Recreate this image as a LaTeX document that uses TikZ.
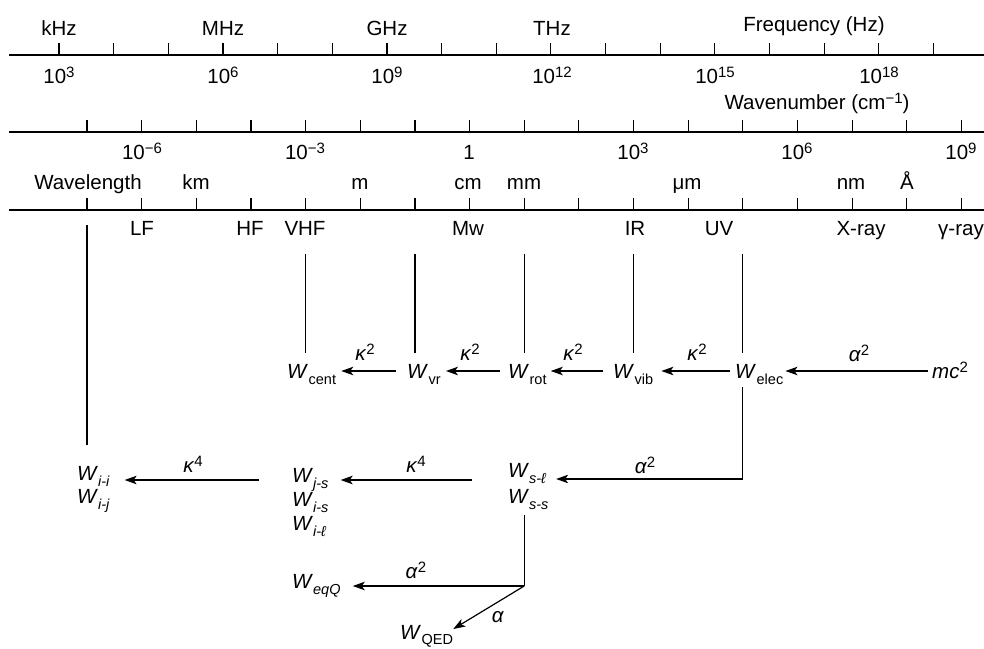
\documentclass[tikz,border=0pt]{standalone}
\usepackage{fontspec}
\setmainfont{Liberation Sans}
\usetikzlibrary{arrows.meta,calc}
\newcommand{\sups}[1]{\raisebox{6pt}{\fontsize{15}{15}\selectfont #1}}
\newcommand{\subs}[1]{\raisebox{-6pt}{\fontsize{14.5}{15}\selectfont #1}}
\newcommand{\Wx}[1]{\textit{W}\kern0.5pt\subs{#1}}
\newcommand{\Wi}[1]{\textit{W}\subs{\itshape #1}}
\begin{document}
\begin{tikzpicture}[x=1pt,y=-1pt,
  lbl/.style={font=\fontsize{20.5}{24}\selectfont, inner sep=0pt, anchor=base},
  ax/.style={line width=1.2pt},
  ln/.style={line width=1.2pt},
  arr/.style={line width=1.2pt,-{Stealth[length=12pt,width=8.5pt,inset=3pt]}},
  wn/.style={font=\fontsize{20.5}{24}\selectfont, inner sep=0pt, anchor=base west},
  cf/.style={font=\fontsize{20.5}{24}\selectfont, inner sep=0pt, anchor=base},
]
\useasboundingbox (0,0) rectangle (984,648);
% axes
\draw[ax] (9,55) -- (984,55);
\foreach \k in {0,...,16} \draw[ax] ({59+54.65*\k},43) -- ({59+54.65*\k},55);
\draw[ax] (9,132) -- (984,132);
\foreach \k in {0,...,16} \draw[ax] ({87+54.65*\k},120) -- ({87+54.65*\k},132);
\draw[ax] (9,210) -- (984,210);
\foreach \k in {0,...,16} {
  \coordinate (t\k) at ({87+54.65*\k},210);
  \draw[ax] ({87+54.65*\k},198) -- (t\k);
}
% frequency labels
\node[lbl] (khz) at (59,35) {kHz};
\node[lbl] (mhz) at (223,35) {MHz};
\node[lbl] (ghz) at (387,35) {GHz};
\node[lbl] (thz) at (552,35) {THz};
\node[lbl] (freq) at (814,31) {Frequency (Hz)};
\node[lbl] (p3) at (59,83) {10\sups{3}};
\node[lbl] (p6) at (223,83) {10\sups{6}};
\node[lbl] (p9) at (387,83) {10\sups{9}};
\node[lbl] (p12) at (552,83) {10\sups{12}};
\node[lbl] (p15) at (715,83) {10\sups{15}};
\node[lbl] (p18) at (879,83) {10\sups{18}};
% wavenumber labels
\node[lbl] (wnum) at (817,109) {Wavenumber (cm\sups{−1})};
\node[lbl] (q1) at (142,159) {10\sups{−6}};
\node[lbl] (q2) at (305,159) {10\sups{−3}};
\node[lbl] (q3) at (469,159) {1};
\node[lbl] (q4) at (633,159) {10\sups{3}};
\node[lbl] (q5) at (797,159) {10\sups{6}};
\node[lbl] (q6) at (961,159) {10\sups{9}};
% wavelength labels
\node[lbl] (wl) at (88,189) {Wavelength};
\node[lbl] (km) at (196,189) {km};
\node[lbl] (m) at (360,189) {m};
\node[lbl] (cm) at (468,189) {cm};
\node[lbl] (mm) at (524,189) {mm};
\node[lbl] (um) at (687,189) {μm};
\node[lbl] (nm) at (851,189) {nm};
\node[lbl] (ang) at (907,189) {Å};
% band labels
\node[lbl] (lf) at (142,235) {LF};
\node[lbl] (hf) at (250,235) {HF};
\node[lbl] (vhf) at (305,235) {VHF};
\node[lbl] (mw) at (468,235) {Mw};
\node[lbl] (ir) at (635,235) {IR};
\node[lbl] (uv) at (719,235) {UV};
\node[lbl] (xr) at (861,235) {X-ray};
\node[lbl,anchor=base west] (gr) at (938,235) {γ-ray};
% W row
\node[wn] (Wcent) at (287,378) {\Wx{cent}};
\node[wn] (Wvr) at (407,378) {\Wx{vr}};
\node[wn] (Wrot) at (508,378) {\Wx{rot}};
\node[wn] (Wvib) at (613,378) {\Wx{vib}};
\node[wn] (Welec) at (735,378) {\Wx{elec}};
\node[wn] (mc2) at (932,378) {\textit{mc}\sups{2}};
% verticals
\foreach \k/\n in {4/Wcent,6/Wvr,8/Wrot,10/Wvib,12/Welec}
  \draw[ln] ($(t\k)+(0,44)$) -- ($(t\k |- \n.north)+(0,-11)$);
% W row arrows
\draw[arr] ($(mc2.base west)+(-4,-7)$) -- ($(Welec.base east)+(2,-7)$);
\draw[arr] ($(Welec.base west)+(-5,-7)$) -- ($(Wvib.base east)+(8,-7)$);
\draw[arr] ($(Wvib.base west)+(-10,-7)$) -- ($(Wrot.base east)+(4,-7)$);
\draw[arr] ($(Wrot.base west)+(-8,-7)$) -- ($(Wvr.base east)+(5,-7)$);
\draw[arr] ($(Wvr.base west)+(-11,-7)$) -- ($(Wcent.base east)+(5,-7)$);
\node[cf] (k1) at (365,360) {\textit{κ}\sups{2}};
\node[cf] (k2) at (470,360) {\textit{κ}\sups{2}};
\node[cf] (k3) at (573,360) {\textit{κ}\sups{2}};
\node[cf] (k4) at (697,360) {\textit{κ}\sups{2}};
\node[cf] (a1) at (859,361) {\textit{α}\sups{2}};
% lower nodes
\node[wn] (Wsl) at (508,477) {\Wi{s-ℓ}};
\node[wn] (Wss) at (508,503) {\Wi{s-s}};
\node[wn] (Wjs) at (292,482) {\Wi{j-s}};
\node[wn] (Wis) at (292,506) {\Wi{i-s}};
\node[wn] (Wil) at (292,530) {\Wi{i-ℓ}};
\node[wn] (Wii) at (77,480) {\Wi{i-i}};
\node[wn] (Wij) at (77,503) {\Wi{i-j}};
\node[wn] (WeqQ) at (292,588) {\Wi{eqQ}};
\node[wn] (WQED) at (400,639) {\textit{W}\kern0.5pt\raisebox{-5pt}{\fontsize{14.5}{15}\selectfont QED}};
% lower connectors
\draw[arr] ($(t12|-Welec.south)+(0,3)$) |- ($(Wsl.base east)+(10,2)$);
\draw[arr] ($(Wsl.base west)+(-36,3)$) -- ($(Wjs.base east)+(12,-2)$);
\draw[arr] ($(Wjs.base west)+(-33,-2)$) -- ($(Wii.base east)+(15,0)$);
\draw[ln] ($(t0)+(0,15)$) -- ($(t0|-Wii.north)+(0,-21)$);
\coordinate (br) at ($(t8|-WeqQ.base)+(0,-2)$);
\draw[ln] ($(t8|-Wss.south)+(0,6)$) -- (br);
\draw[arr] (br) -- ($(WeqQ.base east)+(12,-2)$);
\draw[arr] (br) -- ($(WQED.base east)+(0,-10)$);
\node[cf] (k5) at (193,472) {\textit{κ}\sups{4}};
\node[cf] (k6) at (416,472) {\textit{κ}\sups{4}};
\node[cf] (a2) at (645,473) {\textit{α}\sups{2}};
\node[cf] (a3) at (416,578) {\textit{α}\sups{2}};
\node[cf] (a4) at (498,622) {\textit{α}};
\end{tikzpicture}
\end{document}
